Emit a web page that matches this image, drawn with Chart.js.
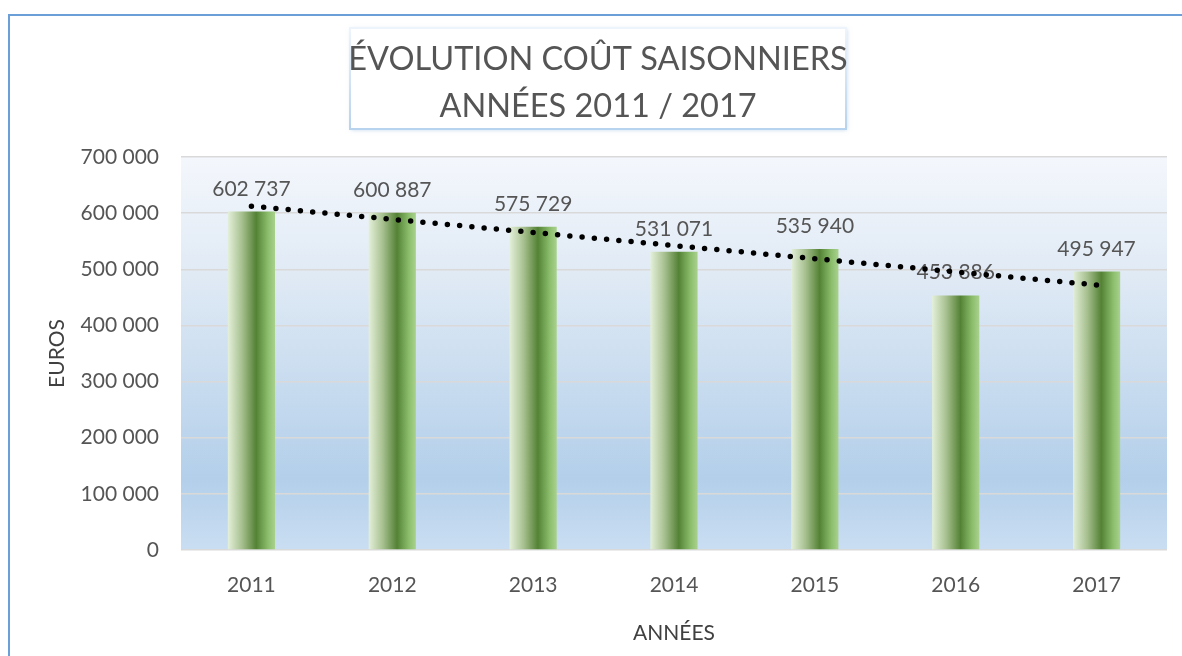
<!DOCTYPE html>
<html>
<head>
<meta charset="utf-8">
<script src="https://cdn.jsdelivr.net/npm/chart.js@4.4.1/dist/chart.umd.min.js"></script>
<style>
  html, body { margin: 0; padding: 0; background: #fff; }
  #wrap { width: 1182px; height: 656px; position: relative; }
</style>
</head>
<body>
<div id="wrap"><canvas id="chart"></canvas></div>
<script>
// données
const years = ["2011", "2012", "2013", "2014", "2015", "2016", "2017"];
const costs = [602737, 600887, 575729, 531071, 535940, 453386, 495947];
// courbe de tendance (linéaire), valeurs relevées
const trend = [612400, 589000, 565600, 542200, 518800, 495400, 472000];
const titleLines = ["ÉVOLUTION COÛT SAISONNIERS", "ANNÉES 2011 / 2017"];

const FONT = "Lato";
const GREY = "#555555";

function fmt(v) {
  return String(v).replace(/\B(?=(\d{3})+(?!\d))/g, " ");
}

// fond dégradé de la zone de traçage + cadre extérieur
const backgroundPlugin = {
  id: "background",
  beforeDraw(chart) {
    const { ctx, chartArea: a } = chart;
    ctx.save();
    const g = ctx.createLinearGradient(0, a.top, 0, a.bottom);
    g.addColorStop(0, "#f4f7fc");
    g.addColorStop(0.3, "#e0eaf5");
    g.addColorStop(0.82, "#b3cfea");
    g.addColorStop(1, "#cadef2");
    ctx.fillStyle = g;
    ctx.fillRect(a.left, a.top, a.right - a.left, a.bottom - a.top);

    ctx.strokeStyle = "#6a9fd8";
    ctx.lineWidth = 2;
    ctx.beginPath();
    ctx.moveTo(9, chart.height);
    ctx.lineTo(9, 15);
    ctx.lineTo(chart.width, 15);
    ctx.stroke();
    ctx.restore();
  },
};

// étiquettes de valeurs au-dessus des barres
const labelsPlugin = {
  id: "valueLabels",
  afterDatasetDraw(chart, args) {
    if (args.index !== 0) return;
    const { ctx } = chart;
    ctx.save();
    ctx.font = "21px " + FONT;
    ctx.fillStyle = GREY;
    ctx.textAlign = "center";
    ctx.textBaseline = "alphabetic";
    args.meta.data.forEach((bar, i) => {
      ctx.fillText(fmt(costs[i]), bar.x, bar.y - 16);
    });
    ctx.restore();
  },
};

// cadre du titre
const titleBoxPlugin = {
  id: "titleBox",
  afterDraw(chart) {
    const { ctx } = chart;
    const x = 350, y = 28, w = 496, h = 101;
    ctx.save();
    ctx.shadowColor = "rgba(140,180,220,0.5)";
    ctx.shadowBlur = 4;
    ctx.shadowOffsetX = 1;
    ctx.shadowOffsetY = 1;
    ctx.fillStyle = "#fff";
    ctx.fillRect(x, y, w, h);
    ctx.shadowColor = "transparent";
    const g = ctx.createLinearGradient(0, y, 0, y + h);
    g.addColorStop(0, "#eef4fb");
    g.addColorStop(1, "#b8d3ee");
    ctx.strokeStyle = g;
    ctx.lineWidth = 2;
    ctx.strokeRect(x, y, w, h);

    ctx.font = "32.5px " + FONT;
    ctx.fillStyle = GREY;
    ctx.textAlign = "center";
    ctx.textBaseline = "alphabetic";
    ctx.fillText(titleLines[0], x + w / 2, 70);
    ctx.fillText(titleLines[1], x + w / 2, 117);
    ctx.restore();
  },
};

function barGradient(context) {
  const chart = context.chart;
  const area = chart.chartArea;
  if (!area) return "#6a9a4a";
  const xs = chart.scales.x;
  const cx = xs.getPixelForValue(context.dataIndex);
  const half = (area.width / years.length) * 0.335 / 2;
  const g = chart.ctx.createLinearGradient(cx - half, 0, cx + half, 0);
  g.addColorStop(0, "#e4f0da");
  g.addColorStop(0.3, "#a7c08f");
  g.addColorStop(0.6, "#548235");
  g.addColorStop(0.85, "#8bbd6c");
  g.addColorStop(1, "#a9d28d");
  return g;
}

new Chart(document.getElementById("chart"), {
  data: {
    labels: years,
    datasets: [
      {
        type: "bar",
        label: "Coût saisonniers",
        data: costs,
        backgroundColor: barGradient,
        borderWidth: 0,
        barPercentage: 0.335,
        categoryPercentage: 1,
        order: 1,
      },
      {
        type: "line",
        label: "Tendance",
        data: trend,
        borderColor: "#000",
        borderWidth: 5.5,
        borderDash: [0, 12.3],
        borderCapStyle: "round",
        pointRadius: 0,
        fill: false,
        tension: 0,
        order: 0,
      },
    ],
  },
  options: {
    responsive: true,
    maintainAspectRatio: false,
    animation: false,
    layout: { padding: { top: 157, right: 15, left: 0, bottom: 0 } },
    plugins: {
      legend: { display: false },
      tooltip: { enabled: false },
      title: { display: false },
    },
    scales: {
      x: {
        grid: { display: false },
        border: { display: false },
        ticks: { color: GREY, font: { family: FONT, size: 21 }, padding: 15 },
        title: {
          display: true,
          text: "ANNÉES",
          color: "#404040",
          font: { family: FONT, size: 21 },
          padding: { top: 0, bottom: 10 },
        },
        afterFit(scale) { scale.height = 106; },
      },
      y: {
        min: 0,
        max: 700000,
        grid: { color: "#d9d9d9", lineWidth: 1.5, drawTicks: false },
        border: { display: false },
        ticks: {
          stepSize: 100000,
          color: GREY,
          font: { family: FONT, size: 21 },
          padding: 22,
          callback: (v) => fmt(v),
        },
        title: {
          display: true,
          text: "EUROS",
          color: "#404040",
          font: { family: FONT, size: 21 },
          padding: { top: 45, bottom: 0 },
        },
        afterFit(scale) { scale.width = 181; },
      },
    },
  },
  plugins: [backgroundPlugin, labelsPlugin, titleBoxPlugin],
});
</script>
</body>
</html>
